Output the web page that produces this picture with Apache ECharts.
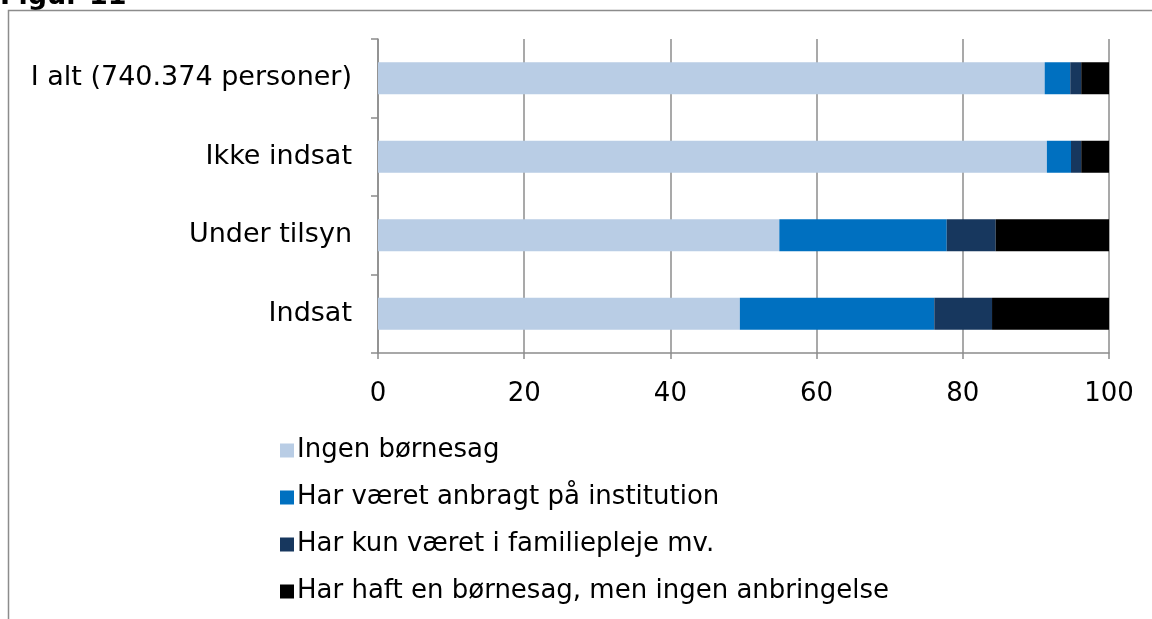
<!DOCTYPE html>
<html lang="da">
<head>
  <meta charset="UTF-8">
  <title>Figur 11</title>
  <script src="https://cdn.jsdelivr.net/npm/echarts@6/dist/echarts.min.js"></script>
  <style>
    html, body { margin: 0; padding: 0; background: #fff; }
    #chart { width: 1152px; height: 619px; }
  </style>
</head>
<body>
  <div id="chart"></div>
  <script>
    // rækkefølge oppefra og ned
    const categories = ['I alt (740.374 personer)', 'Ikke indsat', 'Under tilsyn', 'Indsat'];
    const seriesNames = [
      'Ingen børnesag',
      'Har været anbragt på institution',
      'Har kun været i familiepleje mv.',
      'Har haft en børnesag, men ingen anbringelse'
    ];
    const ingenBoernesag = [91.2, 91.5, 54.9, 49.5];
    const anbragtInstitution = [3.5, 3.3, 22.9, 26.6];
    const familiepleje = [1.5, 1.4, 6.7, 7.9];
    const ingenAnbringelse = [3.8, 3.8, 15.5, 16.0];
    const xTicks = [0, 20, 40, 60, 80, 100];

    const colors = ['#b9cde5', '#0070c0', '#17375e', '#000000'];
    const values = [ingenBoernesag, anbragtInstitution, familiepleje, ingenAnbringelse];
    const font = 'DejaVu Sans';

    const series = values.map((data, i) => ({
      name: seriesNames[i],
      type: 'bar',
      stack: 'total',
      data: data,
      barWidth: 32,
      itemStyle: { color: colors[i] }
    }));

    const option = {
      animation: false,
      textStyle: { fontFamily: font },
      grid: { left: 378, right: 43, top: 39, bottom: 266 },
      xAxis: {
        type: 'value',
        min: 0,
        max: 100,
        interval: 20,
        axisLine: { show: true, lineStyle: { color: '#8c8c8c', width: 1.5 } },
        axisTick: { show: true, length: 6, lineStyle: { color: '#8c8c8c', width: 1.5 } },
        splitLine: { show: true, lineStyle: { color: '#8c8c8c', width: 1.5 } },
        axisLabel: {
          color: '#000', fontSize: 26, fontFamily: font, margin: 28,
          formatter: v => xTicks.includes(v) ? String(v) : ''
        }
      },
      yAxis: {
        type: 'category',
        data: categories,
        inverse: true,
        axisLine: { show: true, lineStyle: { color: '#8c8c8c', width: 1.5 } },
        axisTick: { show: true, length: 7, inside: false, lineStyle: { color: '#8c8c8c', width: 1.5 } },
        axisLabel: { color: '#000', fontSize: 27, fontFamily: font, margin: 26 }
      },
      legend: {
        orient: 'vertical',
        left: 275,
        top: 432,
        itemWidth: 14,
        itemHeight: 14,
        itemGap: 20,
        icon: 'rect',
        data: seriesNames,
        textStyle: { color: '#000', fontSize: 26, fontFamily: font, lineHeight: 27, padding: [0, 0, 0, -2] }
      },
      graphic: [
        {
          type: 'text',
          left: 0,
          top: -17,
          style: { text: 'Figur 11', font: 'bold 27px "DejaVu Sans"', fill: '#000' }
        },
        {
          type: 'polyline',
          shape: { points: [[8.5, 619], [8.5, 10.5], [1152, 10.5]] },
          style: { stroke: '#8c8c8c', lineWidth: 1.5, fill: null }
        }
      ],
      series: series
    };

    echarts.init(document.getElementById('chart')).setOption(option);
  </script>
</body>
</html>
